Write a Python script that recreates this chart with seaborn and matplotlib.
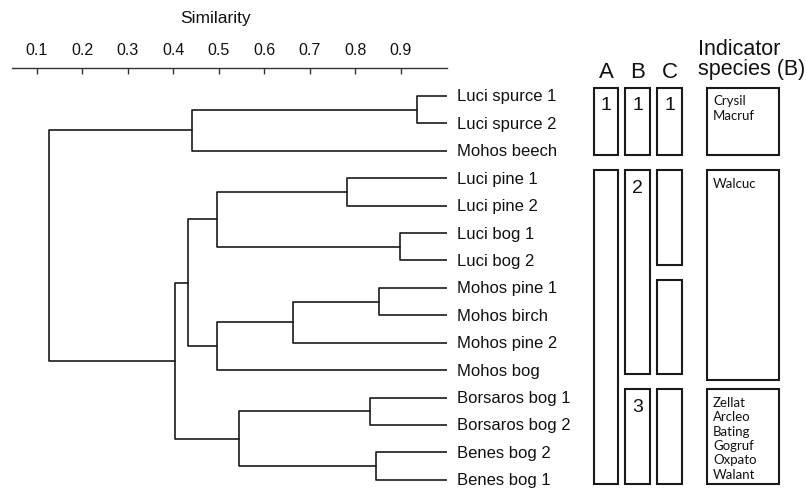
import numpy as np
import pandas as pd
import matplotlib.pyplot as plt
from matplotlib.patches import Rectangle
import seaborn as sns

# leaf order (top to bottom)
leaves = ["Luci spurce 1", "Luci spurce 2", "Mohos beech",
          "Luci pine 1", "Luci pine 2", "Luci bog 1", "Luci bog 2",
          "Mohos pine 1", "Mohos birch", "Mohos pine 2", "Mohos bog",
          "Borsaros bog 1", "Borsaros bog 2", "Benes bog 2", "Benes bog 1"]

# merges: (child a, child b, similarity) - new clusters numbered from 15
merge_a = [0, 15, 3, 5, 17, 7, 20, 21, 19, 11, 13, 24, 23, 16]
merge_b = [1, 2, 4, 6, 18, 8, 9, 10, 22, 12, 14, 25, 26, 27]
merge_sim = [0.935, 0.441, 0.781, 0.898, 0.496, 0.851, 0.663, 0.496,
             0.433, 0.831, 0.846, 0.545, 0.404, 0.128]

sim_ticks = [0.1, 0.2, 0.3, 0.4, 0.5, 0.6, 0.7, 0.8, 0.9]

# group boxes: (first leaf, last leaf, label)
groups_a = [(0, 2, "1"), (3, 14, "")]
groups_b = [(0, 2, "1"), (3, 10, "2"), (11, 14, "3")]
groups_c = [(0, 2, "1"), (3, 6, ""), (7, 10, ""), (11, 14, "")]
indicator = [(0, 2, ["Crysil", "Macruf"]),
             (3, 10, ["Walcuc"]),
             (11, 14, ["Zellat", "Arcleo", "Bating", "Gogruf", "Oxpato", "Walant"])]

# build dendrogram segments
pos = {i: (1.0, float(i)) for i in range(len(leaves))}
rows = []
for k, (a, b, h) in enumerate(zip(merge_a, merge_b, merge_sim)):
    xa, ya = pos[a]
    xb, yb = pos[b]
    for x, y in [(xa, ya), (h, ya), (h, yb), (xb, yb)]:
        rows.append({"link": k, "x": x, "y": y})
    pos[len(leaves) + k] = (h, (ya + yb) / 2)
seg = pd.DataFrame(rows)

sns.set_theme(style="white")
plt.rcParams['font.family'] = ['Liberation Sans', 'DejaVu Sans']

W, H = 806, 489
step, y0 = 27.41, 97.0   # pixels per leaf, pixel of first leaf
fig = plt.figure(figsize=(W / 100, H / 100), dpi=100)

ax = fig.add_axes([12 / W, 0, 434.5 / W, (H - 68.7) / H])
sns.lineplot(data=seg, x="x", y="y", units="link", estimator=None, sort=False,
             color="#1a1a1a", lw=1.2, ax=ax)
ax.set_xlim(0.046, 1.0)
ax.set_ylim((H - y0) / step, (68.7 - y0) / step)
ax.set_xlabel("")
ax.set_ylabel("")
ax.set_yticks([])
for s in ["bottom", "left", "right"]:
    ax.spines[s].set_visible(False)
ax.spines["top"].set_color("#333333")
ax.spines["top"].set_linewidth(1.0)
ax.xaxis.tick_top()
ax.set_xticks(sim_ticks)
ax.set_xticklabels([f"{t:.1f}" for t in sim_ticks])
ax.tick_params(axis="x", direction="in", length=4, width=1, color="#333333",
               pad=7.5, labelsize=11.5, labelcolor="#111111", top=True, bottom=False)

for i, name in enumerate(leaves):
    ax.text(1.024, i, name, ha="left", va="center", fontsize=12,
            color="#111111", clip_on=False)

fig.text(215 / W, 1 - 19 / H, "Similarity", ha="center", va="center",
         fontsize=12.5, color="#111111")

# right-hand panel: groups and indicator species
ax2 = fig.add_axes([580 / W, 0, 226 / W, 1])
ax2.set_xlim(580, 806)
ax2.set_ylim((H - y0) / step, (0 - y0) / step)
ax2.axis("off")
px = 1 / step
top_pad, bot_pad = 0.3, 0.16

cols = [("A", 594, 618.3, groups_a), ("B", 625.3, 650, groups_b), ("C", 657.3, 681.7, groups_c)]
for head, xl, xr, groups in cols:
    ax2.text((xl + xr) / 2, (78.3 - y0) * px, head, ha="center", va="baseline",
             fontsize=16, color="#111111")
    for first, last, lab in groups:
        top = first - top_pad
        bot = last + bot_pad
        ax2.add_patch(Rectangle((xl, top), xr - xl, bot - top, fill=False,
                                ec="#1a1a1a", lw=1.5))
        if lab:
            ax2.text((xl + xr) / 2, top + 17 * px, lab, ha="center", va="center",
                     fontsize=14, color="#111111")

ax2.text(698, (55 - y0) * px, "Indicator", ha="left", va="baseline",
         fontsize=15.5, color="#111111")
ax2.text(698, (75 - y0) * px, "species (B)", ha="left", va="baseline",
         fontsize=15.5, color="#111111", clip_on=False)

for j, (first, last, spp) in enumerate(indicator):
    top = first - top_pad
    bot = last + (0.36 if j == 1 else bot_pad)
    ax2.add_patch(Rectangle((706.7, top), 72, bot - top, fill=False,
                            ec="#1a1a1a", lw=1.5))
    for n, sp in enumerate(spp):
        ax2.text(713, top + (12.5 + 14.4 * n) * px, sp, ha="left", va="center",
                 fontsize=9.5, family=["Lato", "DejaVu Sans"], color="#111111")

fig.savefig("out.png", dpi=100)
